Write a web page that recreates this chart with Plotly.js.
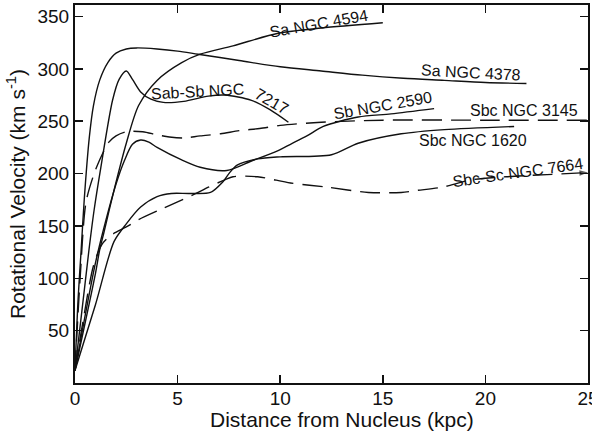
<!DOCTYPE html>
<html>
<head>
<meta charset="utf-8">
<script src="https://cdn.plot.ly/plotly-3.0.1.min.js"></script>
<style>html,body{margin:0;padding:0;background:#fff;}#chart{width:592px;height:440px;}</style>
</head>
<body>
<div id="chart"></div>
<script>
// Rotation curves (distance kpc, velocity km/s)
const ngc4378_x = [0, 0.15, 0.3, 0.45, 0.7, 0.9, 1.2, 1.6, 2.0, 2.5, 3.0, 4, 5, 6, 8, 10, 12, 14, 16, 18, 20, 22];
const ngc4378_v = [12, 80, 127, 175, 235, 265, 289, 306, 315, 319, 320, 319, 317, 314, 308, 302, 298, 294, 291, 289, 287, 286];

const ngc4594_x = [0, 0.5, 1.0, 1.2, 1.4, 1.9, 2.5, 3.1, 4.0, 5.2, 6.1, 7.7, 9.9, 12, 15];
const ngc4594_v = [12, 58, 105, 127, 143, 184, 229, 265, 289, 306, 314, 322, 334, 339, 344];

const ngc7217_x = [0, 0.68, 0.93, 1.26, 1.83, 2.15, 2.5, 2.8, 3.2, 3.7, 4.3, 5.3, 6.5, 7.3, 8.6, 9.5, 10.4];
const ngc7217_v = [12, 127, 165, 206, 270, 290, 298, 290, 278, 271, 268, 269, 274, 275, 270, 261, 249];

const ngc2590_x = [0, 0.5, 1.0, 1.5, 2.0, 2.4, 2.8, 3.2, 3.6, 4.0, 5.2, 6.1, 7.4, 8.6, 9.9, 10.5, 11.3, 12.1, 13.8, 15.4, 17.5];
const ngc2590_v = [12, 65, 115, 155, 190, 212, 228, 232, 230, 225, 213, 206, 203, 212, 222, 228, 236, 245, 254, 257, 262];

const ngc3145_x = [0, 0.25, 0.53, 0.88, 1.2, 1.65, 2.0, 2.5, 3.3, 4.0, 4.6, 5.3, 6.1, 7.1, 8, 9, 10, 12, 15, 20, 25];
const ngc3145_v = [12, 100, 172, 197, 213, 230, 236, 240, 240, 237, 235, 234, 236, 238, 241, 243, 246, 249, 251, 251, 251];

const ngc1620_x = [0, 1.0, 1.9, 2.5, 3.2, 4.0, 4.7, 5.6, 6.6, 7.2, 7.5, 7.9, 8.9, 10, 12.5, 13.8, 15.9, 18, 21.4];
const ngc1620_v = [12, 75, 135, 152, 168, 178, 181, 181, 182, 192, 200, 208, 214, 216, 218, 229, 238, 242, 245];

const ngc7664_x = [0, 0.4, 0.9, 1.3, 1.75, 2.5, 3.1, 4.2, 5.0, 6.0, 6.5, 7.3, 7.7, 8.9, 10.5, 12.3, 14.3, 15.9, 16.7, 17.9, 19.3, 21, 23, 25];
const ngc7664_v = [12, 60, 112, 132, 141, 149, 156, 166, 173, 182, 187, 194, 197, 197, 191, 187, 182, 182, 184, 187, 194, 197, 199, 201];

// Curve labels
const labelText = ["Sa NGC 4594", "Sa NGC 4378", "Sab-Sb NGC", "7217", "Sb NGC 2590", "Sbc NGC 3145", "Sbc NGC 1620", "Sbc-Sc NGC 7664"];
const labelX = [11.9, 19.3, 5.95, 9.6, 15.0, 21.9, 19.4, 21.6];
const labelV = [343.5, 297, 278, 269, 265, 260.5, 232, 201];
const labelAngle = [-10, 3, -3, 30, -10, 0, 0, -8];

const xTicks = [0, 5, 10, 15, 20, 25];
const yTicks = [50, 100, 150, 200, 250, 300, 350];

const FONT = 'Liberation Sans, Arial, Helvetica, sans-serif';
const solid = {color: '#111', width: 1.4, shape: 'spline', smoothing: 0.8};
const dashed = {color: '#111', width: 1.4, shape: 'spline', smoothing: 0.8, dash: '20px,9px'};

function tr(x, y, line, extra) {
  return Object.assign({x: x, y: y, type: 'scatter', mode: 'lines', line: line, hoverinfo: 'skip', showlegend: false, cliponaxis: false}, extra || {});
}

const arrowSizes = ngc7664_x.map((v, i) => i === ngc7664_x.length - 1 ? 9 : 0);

const data = [
  tr(ngc4378_x, ngc4378_v, solid),
  tr(ngc4594_x, ngc4594_v, solid),
  tr(ngc7217_x, ngc7217_v, solid),
  tr(ngc2590_x, ngc2590_v, solid),
  tr(ngc1620_x, ngc1620_v, solid),
  tr(ngc3145_x, ngc3145_v, dashed),
  tr(ngc7664_x, ngc7664_v, dashed, {mode: 'lines+markers', marker: {symbol: 'arrow', angleref: 'previous', size: arrowSizes, color: '#111', line: {width: 0}}})
];

const annotations = labelText.map((t, i) => ({
  x: labelX[i], y: labelV[i], xref: 'x', yref: 'y', text: t, showarrow: false,
  textangle: labelAngle[i], font: {family: FONT, size: 16, color: '#111'}
}));
annotations.push({
  x: 0.52, y: -0.096, xref: 'paper', yref: 'paper', xanchor: 'center', yanchor: 'middle',
  text: 'Distance from Nucleus (kpc)', showarrow: false, font: {family: FONT, size: 21, color: '#111'}
});

const layout = {
  width: 592, height: 440,
  margin: {l: 75, r: 4, t: 5, b: 57},
  paper_bgcolor: '#fff', plot_bgcolor: '#fff',
  font: {family: FONT, color: '#111', size: 19},
  xaxis: {
    range: [0, 25], tickvals: xTicks, ticktext: xTicks.map(String),
    ticks: 'inside', ticklen: 8, tickwidth: 1.5, tickcolor: '#111',
    showline: true, linewidth: 2, linecolor: '#111', mirror: 'ticks',
    showgrid: false, zeroline: false, ticklabeloverflow: 'allow',
    ticklabelstandoff: -3,
    tickfont: {size: 19}
  },
  yaxis: {
    range: [0, 361], tickvals: yTicks, ticktext: yTicks.map(String),
    ticks: 'inside', ticklen: 8, tickwidth: 1.5, tickcolor: '#111',
    showline: true, linewidth: 2, linecolor: '#111', mirror: 'ticks',
    showgrid: false, zeroline: false,
    tickfont: {size: 19},
    title: {text: 'Rotational Velocity (km s<sup>-1</sup>)', font: {size: 21}, standoff: 6}
  },
  annotations: annotations
};

Plotly.newPlot('chart', data, layout, {displayModeBar: false, staticPlot: true});
</script>
</body>
</html>
